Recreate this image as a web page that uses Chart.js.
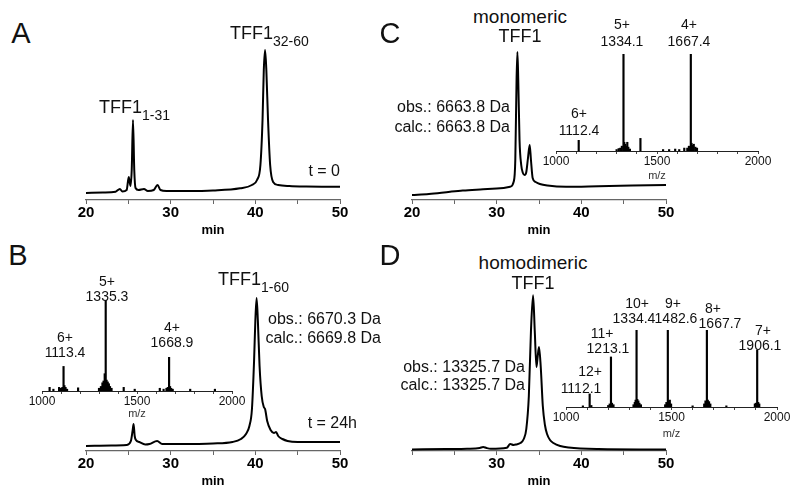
<!DOCTYPE html>
<html><head><meta charset="utf-8">
<script src="https://cdn.jsdelivr.net/npm/chart.js@4.4.0/dist/chart.umd.min.js"></script>
<style>
html,body{margin:0;padding:0;background:#fff;}
#fig{position:relative;width:800px;height:493px;overflow:hidden;background:#fff;font-family:'Liberation Sans',Arial,Helvetica,sans-serif;color:#111;}
canvas{position:absolute;}
.t{position:absolute;white-space:nowrap;line-height:1;}
.c{transform:translate(-50%,-50%);}
.r{transform:translate(-100%,-50%);}
.l{transform:translate(0,-50%);}
.sb{font-size:14px;position:relative;top:7px;}
.pl{font-size:29px;}
.big{font-size:19px;}
.ms{font-size:16px;}
.pk{font-size:14px;}
</style></head><body>
<div id="fig">
<canvas id="cA" width="294" height="200" style="left:66px;top:40px"></canvas>
<canvas id="cB" width="294" height="200" style="left:66px;top:291px"></canvas>
<canvas id="cC" width="294" height="200" style="left:392px;top:40px"></canvas>
<canvas id="cD" width="294" height="200" style="left:392px;top:291px"></canvas>
<canvas id="sB" width="230" height="121" style="left:22px;top:300px"></canvas>
<canvas id="sC" width="242" height="129" style="left:536px;top:54px"></canvas>
<canvas id="sD" width="251" height="111" style="left:546px;top:330px"></canvas>

<div class="t c pl" style="left:21px;top:33px">A</div>
<div class="t c pl" style="left:390px;top:33px">C</div>
<div class="t c pl" style="left:18px;top:255px">B</div>
<div class="t c pl" style="left:390px;top:255px">D</div>

<div class="t l big" style="left:99px;top:107px;font-size:18px">TFF1<span class="sb">1-31</span></div>
<div class="t l big" style="left:230px;top:33px;font-size:18px">TFF1<span class="sb">32-60</span></div>
<div class="t r ms" style="left:340px;top:171px">t = 0</div>

<div class="t l big" style="left:218px;top:279px;font-size:18px">TFF1<span class="sb">1-60</span></div>
<div class="t r ms" style="left:381px;top:319px">obs.: 6670.3 Da</div>
<div class="t r ms" style="left:381px;top:338px">calc.: 6669.8 Da</div>
<div class="t r ms" style="left:357px;top:423px">t = 24h</div>
<div class="t c pk" style="left:107px;top:281px">5+</div>
<div class="t c pk" style="left:107px;top:296px">1335.3</div>
<div class="t c pk" style="left:65px;top:337px">6+</div>
<div class="t c pk" style="left:65px;top:352px">1113.4</div>
<div class="t c pk" style="left:172px;top:327px">4+</div>
<div class="t c pk" style="left:172px;top:342px">1668.9</div>

<div class="t c big" style="left:520px;top:16px">monomeric</div>
<div class="t c big" style="left:520px;top:36px;font-size:18px">TFF1</div>
<div class="t r ms" style="left:510px;top:107px">obs.: 6663.8 Da</div>
<div class="t r ms" style="left:510px;top:127px">calc.: 6663.8 Da</div>
<div class="t c pk" style="left:622px;top:24px">5+</div>
<div class="t c pk" style="left:622px;top:41px">1334.1</div>
<div class="t c pk" style="left:689px;top:24px">4+</div>
<div class="t c pk" style="left:689px;top:41px">1667.4</div>
<div class="t c pk" style="left:579px;top:113px">6+</div>
<div class="t c pk" style="left:579px;top:130px">1112.4</div>

<div class="t c big" style="left:533px;top:262px">homodimeric</div>
<div class="t c big" style="left:533px;top:283px;font-size:18px">TFF1</div>
<div class="t r ms" style="left:525px;top:367px">obs.: 13325.7 Da</div>
<div class="t r ms" style="left:525px;top:385px">calc.: 13325.7 Da</div>
<div class="t c pk" style="left:590px;top:371px">12+</div>
<div class="t c pk" style="left:581px;top:388px">1112.1</div>
<div class="t c pk" style="left:602px;top:333px">11+</div>
<div class="t c pk" style="left:608px;top:348px">1213.1</div>
<div class="t c pk" style="left:637px;top:303px">10+</div>
<div class="t c pk" style="left:634px;top:318px">1334.4</div>
<div class="t c pk" style="left:673px;top:303px">9+</div>
<div class="t c pk" style="left:676px;top:318px">1482.6</div>
<div class="t c pk" style="left:713px;top:308px">8+</div>
<div class="t c pk" style="left:720px;top:323px">1667.7</div>
<div class="t c pk" style="left:763px;top:330px">7+</div>
<div class="t c pk" style="left:760px;top:345px">1906.1</div>
</div>
<script>
// ---------- Chromatograms (retention time, min ; UV absorbance, arbitrary units) ----------
const timeA = [20, 22, 23.5, 24.0, 24.3, 24.8, 25.05, 25.25, 25.4, 25.55, 25.7, 25.85, 26.2, 26.85, 27.3, 28.0, 28.45, 28.8, 29.5, 32, 35, 38.2, 39.6, 40.2, 40.6, 40.85, 41.0, 41.15, 41.3, 41.5, 41.75, 42.1, 42.7, 44, 46, 50];
const absA  = [7, 7.5, 8.3, 11, 8.5, 10, 23, 14, 30, 80, 30, 12, 10, 11, 9, 10, 15, 10, 9, 9, 9.5, 11.7, 15, 20, 35, 80, 130, 150, 130, 80, 35, 18, 15, 14, 13.5, 13.3];

const timeB = [20, 23, 24.8, 25.3, 25.5, 25.62, 25.75, 25.9, 26.3, 27.0, 27.5, 28.4, 29.0, 31, 35, 37.3, 38.3, 38.9, 39.3, 39.6, 39.85, 40.0, 40.15, 40.3, 40.5, 40.75, 41.0, 41.15, 41.4, 41.8, 42.2, 42.45, 42.7, 43.2, 43.8, 45, 50];
const absB  = [5, 5.5, 6, 10, 20, 27, 15, 11, 9, 6.5, 7, 10, 7, 7, 7.5, 9, 12, 17, 25, 42, 90, 130, 153, 130, 85, 55, 44, 42, 30, 21, 18, 19, 15, 12, 10, 9, 9];

const timeC = [20, 22, 24.5, 26, 28.4, 30, 31.6, 32.0, 32.2, 32.35, 32.45, 32.55, 32.7, 32.9, 33.1, 33.3, 33.5, 33.7, 33.9, 34.05, 34.25, 34.6, 35.1, 36, 38.2, 42, 46, 50];
const absC  = [5, 6, 8.3, 9.5, 10.7, 11.5, 13.3, 18, 40, 120, 148, 120, 60, 35, 27, 25, 28, 42, 55, 40, 22, 18, 16, 14.5, 13.3, 13.8, 14.4, 15];

const timeD = [20, 24, 26.5, 28.0, 28.4, 28.8, 29.3, 31.2, 31.6, 32.0, 32.3, 32.8, 33.2, 33.5, 33.8, 34.05, 34.3, 34.5, 34.7, 34.85, 35.0, 35.2, 35.45, 35.7, 35.95, 36.3, 36.7, 37.5, 38.5, 42, 50];
const absD  = [1.5, 2, 2.3, 3, 4, 3, 2.3, 3.3, 7, 6, 6.5, 8, 12, 22, 55, 120, 155.7, 120, 84, 95, 104, 85, 45, 26, 17, 11, 8, 5, 3.5, 2, 1.5];

// ---------- ESI mass spectra (m/z ; relative intensity %) ----------
const mzB  = [1040, 1060, 1090, 1100, 1107, 1113.4, 1118, 1124, 1132, 1190, 1300, 1310, 1318, 1324, 1330, 1335.3, 1340, 1346, 1352, 1358, 1366, 1430, 1488, 1620, 1640, 1655, 1662, 1668.9, 1674, 1680, 1688, 1780, 1910];
const intB = [4, 2, 4, 3, 4, 27, 6, 4, 2, 3.5, 3, 5, 9, 11, 19, 100, 12, 10, 8, 5, 3, 4, 2, 3, 2, 3, 4, 37, 5, 3, 2, 2, 2];

const mzC  = [1112.4, 1300, 1310, 1318, 1326, 1334.1, 1338, 1343, 1348, 1353, 1358, 1366, 1418, 1530, 1560, 1590, 1610, 1635, 1650, 1658, 1667.4, 1671, 1676, 1682, 1690, 1698];
const intC = [11, 1.5, 2.5, 3, 5, 100, 9, 7, 5, 9, 4, 2, 13, 1.5, 1.5, 2, 1.5, 3, 3, 5, 100, 8, 6, 7, 4, 3];

const mzD  = [1080, 1112.1, 1120, 1200, 1207, 1213.1, 1218, 1225, 1320, 1326, 1330, 1334.4, 1338, 1343, 1348, 1355, 1470, 1476, 1482.6, 1487, 1492, 1498, 1600, 1655, 1661, 1667.7, 1672, 1678, 1684, 1760, 1895, 1900, 1906.1, 1911, 1916];
const intD = [1.5, 17, 2, 2, 4, 65, 5, 3, 3, 6, 9, 100, 10, 8, 5, 3, 3, 6, 100, 8, 9, 4, 1.5, 4, 8, 100, 9, 7, 4, 1.5, 4, 5, 74, 6, 4];

// ---------- tick settings ----------
const timeTickStep = 5;
const mzTickStep = 100;

Chart.defaults.font.family = "'Liberation Sans', Arial, Helvetica, sans-serif";
Chart.defaults.color = '#000';

function chrom(id, t, v, hide20) {
  return new Chart(document.getElementById(id), {
    type: 'line',
    data: { datasets: [{ data: t.map((x, i) => ({ x: x, y: v[i] })), borderColor: '#000', borderWidth: 2,
      pointRadius: 0, cubicInterpolationMode: 'monotone', fill: false }] },
    options: {
      responsive: false, animation: false, devicePixelRatio: 1,
      layout: { padding: { left: 20, right: 20, top: 0, bottom: 0 } },
      plugins: { legend: { display: false }, tooltip: { enabled: false } },
      scales: {
        x: { type: 'linear', min: 20, max: 50,
          afterFit: s => { s.height = 40; },
          border: { display: true, color: '#666', width: 1.2 },
          grid: { display: true, drawOnChartArea: false, drawTicks: true, tickLength: 4, color: '#666', offset: false },
          ticks: { stepSize: timeTickStep, autoSkip: false, maxRotation: 0, padding: 0,
            font: { size: 15, weight: 'bold' }, color: '#000',
            callback: val => (val % 10 === 0 && !(hide20 && val === 20)) ? String(val) : '' },
          title: { display: true, text: 'min', font: { size: 13, weight: 'bold' }, padding: { top: 0, bottom: 2 }, color: '#000' } },
        y: { display: false, min: 0, max: 160 }
      }
    }
  });
}

function spec(id, mz, inten, h) {
  return new Chart(document.getElementById(id), {
    type: 'bar',
    data: { datasets: [{ data: mz.map((x, i) => ({ x: x, y: inten[i] })), backgroundColor: '#000', borderWidth: 0, barThickness: 1.5 }] },
    options: {
      responsive: false, animation: false, devicePixelRatio: 1,
      layout: { padding: { left: 20, right: 20, top: 0, bottom: 0 } },
      plugins: { legend: { display: false }, tooltip: { enabled: false } },
      scales: {
        x: { type: 'linear', min: 1000, max: 2000, offset: false,
          afterFit: s => { s.height = h; },
          border: { display: true, color: '#222', width: 1 },
          grid: { display: true, drawOnChartArea: false, drawTicks: true, tickLength: 3, color: '#444', offset: false },
          ticks: { stepSize: mzTickStep, autoSkip: false, maxRotation: 0, padding: 0, font: { size: 12 }, color: '#111',
            callback: val => (val % 500 === 0) ? String(val) : '' },
          title: { display: true, text: 'm/z', font: { size: 11 }, padding: 0, color: '#333' } },
        y: { display: false, min: 0, max: 100 }
      }
    }
  });
}

chrom('cA', timeA, absA, false);
chrom('cB', timeB, absB, false);
chrom('cC', timeC, absC, false);
chrom('cD', timeD, absD, true);
spec('sB', mzB, intB, 30);
spec('sC', mzC, intC, 32);
spec('sD', mzD, intD, 34);
</script>
</body></html>
